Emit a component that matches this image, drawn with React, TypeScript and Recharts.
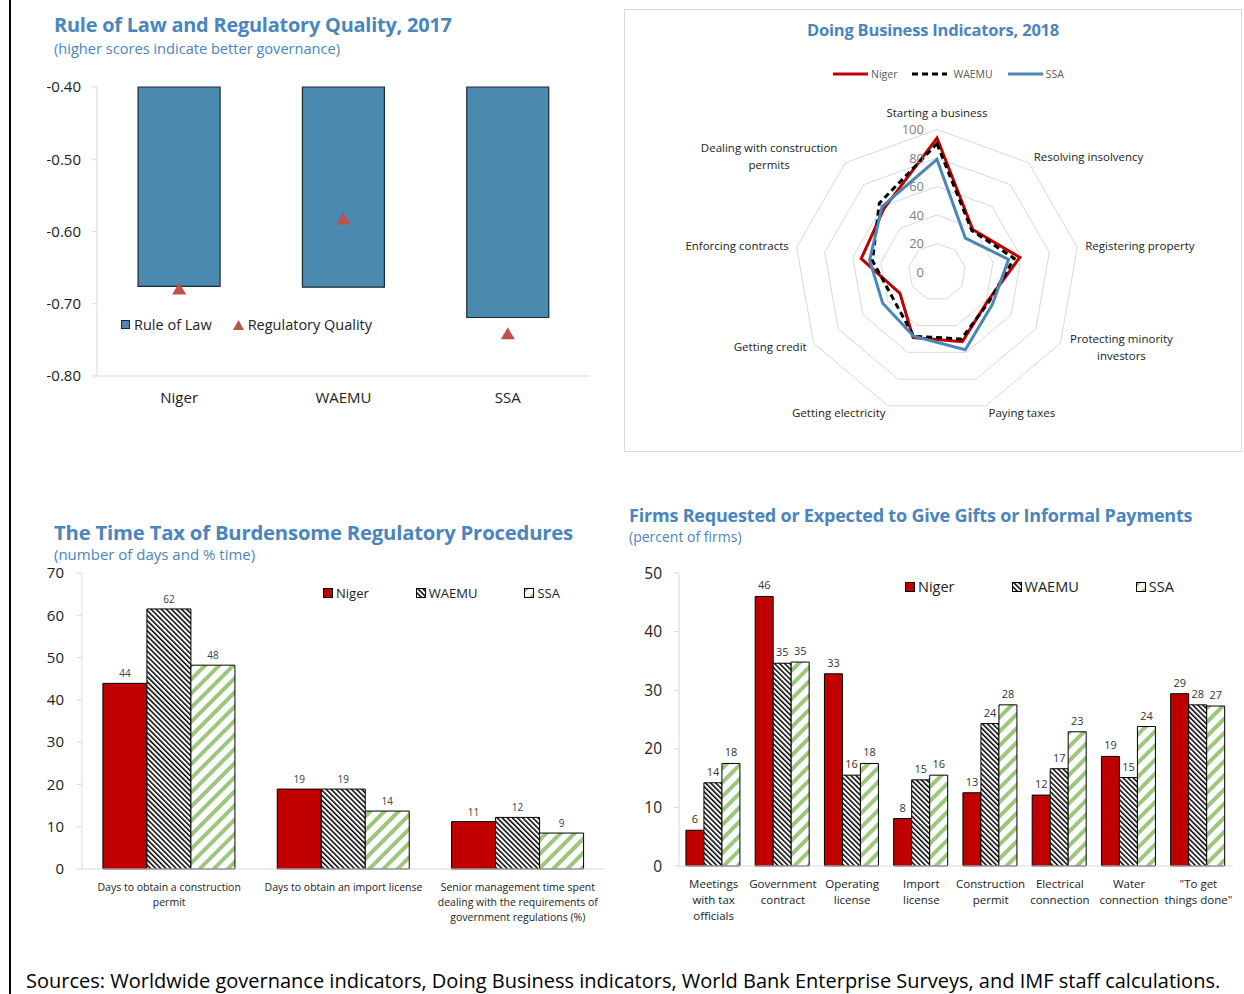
import React from "react";
import {
  ComposedChart,
  BarChart,
  Bar,
  Line,
  XAxis,
  YAxis,
  LabelList,
  Legend,
  RadarChart,
  Radar,
  PolarGrid,
  PolarAngleAxis,
  PolarRadiusAxis,
} from "recharts";

const FONT = "'Open Sans', 'Noto Sans', Arial, sans-serif";
const TITLE_BLUE = "#4a85bd";
const TEXT = "#222222";
const BORDER = "#d9d9d9";
const RED = "#c00000";
const STEEL = "#4a8aae";
const TRI = "#c0504d";
const GREEN = "#9bc87c";
const SSA_BLUE = "#4a87b8";

// Rule of law panel
const govGroups = ["Niger", "WAEMU", "SSA"];
const ruleOfLaw = [-0.676, -0.677, -0.719];
const regulatoryQuality = [-0.679, -0.582, -0.741];
const govTicks = [-0.8, -0.7, -0.6, -0.5, -0.4];

// Doing business radar
const dbIndicators = [
  "Starting a business",
  "Resolving insolvency",
  "Registering property",
  "Protecting minority\ninvestors",
  "Paying taxes",
  "Getting electricity",
  "Getting credit",
  "Enforcing contracts",
  "Dealing with construction\npermits",
];
const dbNiger = [94, 39, 59, 41, 52, 49, 30, 54, 58];
const dbWaemu = [90, 38, 55, 42, 50, 48, 36, 46, 63];
const dbSsa = [79, 31, 51, 45, 58, 48, 44, 48, 60];
const dbTicks = [0, 20, 40, 60, 80, 100];

// Time tax panel
const timeItems = [
  "Days to obtain a construction\npermit",
  "Days to obtain an import license",
  "Senior management time spent\ndealing with the requirements of\ngovernment regulations (%)",
];
const timeNiger = [43.9, 18.9, 11.2];
const timeWaemu = [61.5, 18.9, 12.2];
const timeSsa = [48.2, 13.7, 8.5];
const timeTicks = [0, 10, 20, 30, 40, 50, 60, 70];

// Informal payments panel
const payItems = [
  "Meetings\nwith tax\nofficials",
  "Government\ncontract",
  "Operating\nlicense",
  "Import\nlicense",
  "Construction\npermit",
  "Electrical\nconnection",
  "Water\nconnection",
  "\"To get\nthings done\"",
];
const payNiger = [6.1, 46, 32.8, 8.1, 12.5, 12.1, 18.7, 29.4];
const payWaemu = [14.2, 34.6, 15.5, 14.7, 24.3, 16.6, 15.1, 27.5];
const paySsa = [17.5, 34.8, 17.5, 15.5, 27.5, 22.9, 23.8, 27.3];
const payTicks = [0, 10, 20, 30, 40, 50];

const govData = govGroups.map((name, i) => ({ name, rol: ruleOfLaw[i], rq: regulatoryQuality[i] }));
const dbData = dbIndicators.map((name, i) => ({ name, niger: dbNiger[i], waemu: dbWaemu[i], ssa: dbSsa[i] }));
const timeData = timeItems.map((name, i) => ({ name, niger: timeNiger[i], waemu: timeWaemu[i], ssa: timeSsa[i] }));
const payData = payItems.map((name, i) => ({ name, niger: payNiger[i], waemu: payWaemu[i], ssa: paySsa[i] }));

function makeCategoryTick(fontSize: number, lineHeight: number, firstDy: number) {
  return (props: any) => {
    const { x, y, payload } = props;
    const lines = String(payload.value).split("\n");
    return (
      <text x={x} y={y} textAnchor="middle" fontSize={fontSize} fill={TEXT} fontFamily={FONT}>
        {lines.map((line, i) => (
          <tspan key={i} x={x} dy={i === 0 ? firstDy : lineHeight}>
            {line}
          </tspan>
        ))}
      </text>
    );
  };
}

function TriangleDot(props: any) {
  const { cx, cy, index } = props;
  if (cx == null || cy == null) return null;
  return <path key={`tri-${index}`} d={`M${cx},${cy - 6}L${cx + 7},${cy + 6}L${cx - 7},${cy + 6}Z`} fill={TRI} />;
}

function AngleTick(props: any) {
  const { x, y, payload, textAnchor } = props;
  const lines = String(payload.value).split("\n");
  const fs = 11.5;
  const lh = 17;
  let anchor = textAnchor;
  let tx = x;
  if (lines.length > 1) {
    const w = Math.max(...lines.map((l) => l.length)) * fs * 0.495;
    tx = anchor === "start" ? x + w / 2 : anchor === "end" ? x - w / 2 : x;
    anchor = "middle";
  }
  let ty = y - ((lines.length - 1) * lh) / 2 + fs * 0.35;
  if (textAnchor === "middle") ty -= 8.5;
  return (
    <text x={tx} y={ty} textAnchor={anchor} fontSize={fs} fill={TEXT} fontFamily={FONT}>
      {lines.map((line, i) => (
        <tspan key={i} x={tx} dy={i === 0 ? 0 : lh}>
          {line}
        </tspan>
      ))}
    </text>
  );
}

function RadiusTick(props: any) {
  const { x, y, payload } = props;
  return (
    <text x={x - 13} y={y} dy={4.5} textAnchor="end" fontSize={13} fill="#808080" fontFamily={FONT}>
      {payload.value}
    </text>
  );
}

function Patterns({ prefix }: { prefix: string }) {
  return (
    <defs>
      <pattern id={`${prefix}-hatch`} patternUnits="userSpaceOnUse" width={3.6} height={3.6} patternTransform="rotate(-45)">
        <rect width={3.6} height={3.6} fill="#fff" />
        <rect width={1.5} height={3.6} fill="#000" />
      </pattern>
      <pattern id={`${prefix}-stripe`} patternUnits="userSpaceOnUse" width={10} height={10} patternTransform="rotate(45)">
        <rect width={10} height={10} fill="#fff" />
        <rect width={4} height={10} fill={GREEN} />
      </pattern>
    </defs>
  );
}

function BarLegend({ prefix, fontSize, gap }: { prefix: string; fontSize: number; gap: number }) {
  const items = [
    { name: "Niger", fill: RED },
    { name: "WAEMU", fill: `url(#${prefix}-hatch)` },
    { name: "SSA", fill: `url(#${prefix}-stripe)` },
  ];
  return (
    <div style={{ display: "flex", alignItems: "center", fontFamily: FONT, fontSize, color: TEXT, whiteSpace: "nowrap" }}>
      {items.map((it, i) => (
        <div key={it.name} style={{ display: "flex", alignItems: "center", marginRight: i < items.length - 1 ? gap : 0 }}>
          <svg width={10} height={10} style={{ marginRight: 3 }}>
            <rect x={0.5} y={0.5} width={9} height={9} fill={it.fill} stroke="#000" strokeWidth={1} />
          </svg>
          <span>{it.name}</span>
        </div>
      ))}
    </div>
  );
}

function GovLegend() {
  return (
    <div style={{ display: "flex", alignItems: "center", fontFamily: FONT, fontSize: 14.5, color: TEXT, whiteSpace: "nowrap" }}>
      <span style={{ display: "inline-block", width: 9, height: 9, background: STEEL, border: "1px solid #1c2a36", boxSizing: "border-box", marginRight: 4 }} />
      <span>Rule of Law</span>
      <svg width={11} height={10} style={{ marginLeft: 21, marginRight: 4 }}>
        <path d="M5.5,0L11,10L0,10Z" fill={TRI} />
      </svg>
      <span>Regulatory Quality</span>
    </div>
  );
}

function RadarLegend() {
  const items = [
    { name: "Niger", color: RED, dash: undefined as string | undefined },
    { name: "WAEMU", color: "#000", dash: "6 4" },
    { name: "SSA", color: SSA_BLUE, dash: undefined as string | undefined },
  ];
  return (
    <div style={{ display: "flex", alignItems: "center", fontFamily: FONT, fontSize: 10.5, color: "#595959", whiteSpace: "nowrap" }}>
      {items.map((it, i) => (
        <div key={it.name} style={{ display: "flex", alignItems: "center", marginRight: i < items.length - 1 ? 15 : 0 }}>
          <svg width={35} height={4}>
            <line x1={0} y1={2} x2={35} y2={2} stroke={it.color} strokeWidth={3} strokeDasharray={it.dash} />
          </svg>
          <span style={{ marginLeft: i === 1 ? 6 : 3 }}>{it.name}</span>
        </div>
      ))}
    </div>
  );
}

const titleStyle = (left: number, top: number, size: number): React.CSSProperties => ({
  position: "absolute",
  left,
  top,
  fontFamily: FONT,
  fontWeight: 700,
  fontSize: size,
  lineHeight: 1,
  color: TITLE_BLUE,
  whiteSpace: "nowrap",
  letterSpacing: -0.2,
});

const subStyle = (left: number, top: number, size: number): React.CSSProperties => ({
  position: "absolute",
  left,
  top,
  fontFamily: FONT,
  fontSize: size,
  lineHeight: 1,
  color: TITLE_BLUE,
  whiteSpace: "nowrap",
});

function GovPanel() {
  return (
    <div style={{ position: "absolute", left: 0, top: 0, width: 620, height: 420 }}>
      <ComposedChart width={620} height={420} data={govData} margin={{ top: 87, right: 30, bottom: 14, left: 40 }} barCategoryGap="25%">
        <XAxis dataKey="name" axisLine={{ stroke: BORDER }} tickLine={false} tickSize={0} tick={makeCategoryTick(15, 18, 25)} />
        <XAxis xAxisId="top" orientation="top" dataKey="name" height={0} tick={false} tickLine={false} axisLine={{ stroke: BORDER }} />
        <YAxis
          domain={[-0.8, -0.4]}
          ticks={govTicks}
          width={57}
          tickFormatter={(v: number) => v.toFixed(2)}
          axisLine={{ stroke: BORDER }}
          tickLine={{ stroke: BORDER }}
          tickSize={5}
          tickMargin={11}
          tick={{ fontSize: 15, fill: TEXT, fontFamily: FONT }}
        />
        <YAxis yAxisId="right" orientation="right" width={0} domain={[0, 1]} tick={false} tickLine={false} axisLine={{ stroke: BORDER }} />
        <Bar dataKey="rol" name="Rule of Law" fill={STEEL} stroke="#1c2a36" strokeWidth={1.2} isAnimationActive={false} />
        <Line dataKey="rq" name="Regulatory Quality" stroke="none" dot={TriangleDot} activeDot={false} isAnimationActive={false} />
        <Legend verticalAlign="middle" align="center" wrapperStyle={{ top: 315, left: 121, width: "auto" }} content={() => <GovLegend />} />
      </ComposedChart>
    </div>
  );
}

function RadarPanel() {
  return (
    <div style={{ position: "absolute", left: 624, top: 9, width: 618, height: 443, border: `1px solid ${BORDER}`, boxSizing: "border-box" }}>
      <div style={{ ...titleStyle(0, 12, 16.5), width: 616, textAlign: "center" }}>Doing Business Indicators, 2018</div>
      <div style={{ position: "absolute", left: 0, top: 0 }}>
        <RadarChart width={616} height={441} data={dbData} cx={312} cy={262} outerRadius={142.5} margin={{ top: 0, right: 0, bottom: 0, left: 0 }}>
          <PolarGrid gridType="polygon" radialLines={false} stroke={BORDER} />
          <PolarAngleAxis dataKey="name" tick={AngleTick} tickLine={false} axisLine={false} />
          <PolarRadiusAxis angle={90} domain={[0, 100]} ticks={dbTicks as any} tick={RadiusTick} axisLine={false} tickLine={false} />
          <Radar dataKey="niger" name="Niger" stroke={RED} strokeWidth={3} fill="none" strokeLinejoin="miter" isAnimationActive={false} />
          <Radar dataKey="waemu" name="WAEMU" stroke="#000" strokeWidth={3} strokeDasharray="6 4" fill="none" isAnimationActive={false} />
          <Radar dataKey="ssa" name="SSA" stroke={SSA_BLUE} strokeWidth={3} fill="none" isAnimationActive={false} />
          <Legend verticalAlign="middle" align="center" wrapperStyle={{ top: 57, left: 208, width: "auto" }} content={() => <RadarLegend />} />
        </RadarChart>
      </div>
    </div>
  );
}

function TimePanel() {
  return (
    <div style={{ position: "absolute", left: 0, top: 500, width: 620, height: 440 }}>
      <BarChart width={620} height={440} data={timeData} margin={{ top: 73, right: 15, bottom: 11, left: 20 }} barCategoryGap="12%" barGap={0}>
        <Patterns prefix="tt" />
        <XAxis dataKey="name" height={60} axisLine={{ stroke: BORDER }} tickLine={false} tickSize={0} tick={makeCategoryTick(10.5, 15, 19.5)} interval={0} />
        <XAxis xAxisId="top" orientation="top" dataKey="name" height={0} tick={false} tickLine={false} axisLine={{ stroke: BORDER }} />
        <YAxis
          domain={[0, 70]}
          ticks={timeTicks}
          width={62}
          axisLine={{ stroke: BORDER }}
          tickLine={{ stroke: BORDER }}
          tickSize={5}
          tickMargin={13}
          tick={{ fontSize: 15, fill: TEXT, fontFamily: FONT }}
        />
        <YAxis yAxisId="right" orientation="right" width={0} domain={[0, 1]} tick={false} tickLine={false} axisLine={{ stroke: BORDER }} />
        <Bar dataKey="niger" name="Niger" fill={RED} stroke="#000" strokeWidth={1} isAnimationActive={false}>
          <LabelList dataKey="niger" position="top" offset={6} formatter={(v: any) => Math.round(Number(v))} fontSize={10} fill="#404040" fontFamily={FONT} />
        </Bar>
        <Bar dataKey="waemu" name="WAEMU" fill="url(#tt-hatch)" stroke="#000" strokeWidth={1} isAnimationActive={false}>
          <LabelList dataKey="waemu" position="top" offset={6} formatter={(v: any) => Math.round(Number(v))} fontSize={10} fill="#404040" fontFamily={FONT} />
        </Bar>
        <Bar dataKey="ssa" name="SSA" fill="url(#tt-stripe)" stroke="#000" strokeWidth={1} isAnimationActive={false}>
          <LabelList dataKey="ssa" position="top" offset={6} formatter={(v: any) => Math.round(Number(v))} fontSize={10} fill="#404040" fontFamily={FONT} />
        </Bar>
        <Legend verticalAlign="middle" align="center" wrapperStyle={{ top: 84, left: 323, width: "auto" }} content={() => <BarLegend prefix="tt" fontSize={13} gap={47} />} />
      </BarChart>
    </div>
  );
}

function PayPanel() {
  return (
    <div style={{ position: "absolute", left: 620, top: 500, width: 624, height: 440 }}>
      <BarChart width={624} height={440} data={payData} margin={{ top: 73, right: 11, bottom: 10, left: 10 }} barCategoryGap="10%" barGap={0}>
        <Patterns prefix="pp" />
        <XAxis dataKey="name" height={64} axisLine={{ stroke: BORDER }} tickLine={false} tickSize={0} tick={makeCategoryTick(11.5, 16, 20)} interval={0} />
        <XAxis xAxisId="top" orientation="top" dataKey="name" height={0} tick={false} tickLine={false} axisLine={{ stroke: BORDER }} />
        <YAxis
          domain={[0, 50]}
          ticks={payTicks}
          width={49}
          axisLine={{ stroke: BORDER }}
          tickLine={{ stroke: BORDER }}
          tickSize={5}
          tickMargin={12}
          tick={{ fontSize: 15.5, fill: TEXT, fontFamily: FONT }}
        />
        <YAxis yAxisId="right" orientation="right" width={0} domain={[0, 1]} tick={false} tickLine={false} axisLine={{ stroke: BORDER }} />
        <Bar dataKey="niger" name="Niger" fill={RED} stroke="#000" strokeWidth={1} isAnimationActive={false}>
          <LabelList dataKey="niger" position="top" offset={7} formatter={(v: any) => Math.round(Number(v))} fontSize={11} fill="#333" fontFamily={FONT} />
        </Bar>
        <Bar dataKey="waemu" name="WAEMU" fill="url(#pp-hatch)" stroke="#000" strokeWidth={1} isAnimationActive={false}>
          <LabelList dataKey="waemu" position="top" offset={7} formatter={(v: any) => Math.round(Number(v))} fontSize={11} fill="#333" fontFamily={FONT} />
        </Bar>
        <Bar dataKey="ssa" name="SSA" fill="url(#pp-stripe)" stroke="#000" strokeWidth={1} isAnimationActive={false}>
          <LabelList dataKey="ssa" position="top" offset={7} formatter={(v: any) => Math.round(Number(v))} fontSize={11} fill="#333" fontFamily={FONT} />
        </Bar>
        <Legend verticalAlign="middle" align="center" wrapperStyle={{ top: 77, left: 285, width: "auto" }} content={() => <BarLegend prefix="pp" fontSize={14.5} gap={57} />} />
      </BarChart>
    </div>
  );
}

export default function App() {
  return (
    <div style={{ position: "absolute", left: 0, top: 0, width: 1244, height: 994, background: "#fff", overflow: "hidden", fontFamily: FONT }}>
      <div style={{ position: "absolute", left: 9, top: 0, width: 2, height: 994, background: "#000" }} />

      <div style={titleStyle(54, 15, 19.9)}>Rule of Law and Regulatory Quality, 2017</div>
      <div style={subStyle(54, 41, 14.6)}>(higher scores indicate better governance)</div>
      <GovPanel />

      <RadarPanel />

      <div style={titleStyle(54, 522, 20.3)}>The Time Tax of Burdensome Regulatory Procedures</div>
      <div style={subStyle(54, 547, 15)}>(number of days and % time)</div>
      <TimePanel />

      <div style={titleStyle(629, 506, 18)}>Firms Requested or Expected to Give Gifts or Informal Payments</div>
      <div style={subStyle(629, 530, 14)}>(percent of firms)</div>
      <PayPanel />

      <div style={{ position: "absolute", left: 26, top: 970, fontFamily: FONT, fontSize: 20, lineHeight: 1.1, color: "#000", whiteSpace: "nowrap" }}>
        Sources: Worldwide governance indicators, Doing Business indicators, World Bank Enterprise Surveys, and IMF staff calculations.
      </div>
    </div>
  );
}
